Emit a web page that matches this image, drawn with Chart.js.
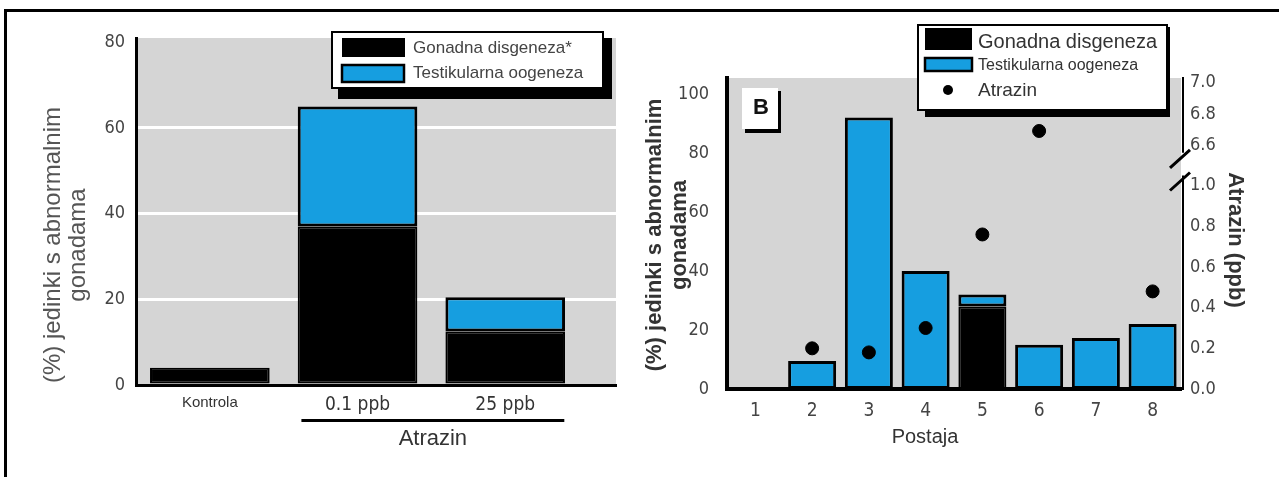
<!DOCTYPE html>
<html>
<head>
<meta charset="utf-8">
<script src="https://cdn.jsdelivr.net/npm/chart.js@4.4.0/dist/chart.umd.min.js"></script>
<style>
  body { margin: 0; background: #fff; overflow: hidden; }
  #lijevo { position: absolute; left: 0; top: 0; width: 640px; height: 477px; }
  #desno { position: absolute; left: 640px; top: 0; width: 639px; height: 477px; }
  #okvir { position: absolute; left: 4px; top: 9px; width: 1300px; height: 500px; border-top: 3px solid #000; border-left: 3px solid #000; }
</style>
</head>
<body>
<div id="lijevo"><canvas id="grafA"></canvas></div>
<div id="desno"><canvas id="grafB"></canvas></div>
<div id="okvir"></div>
<script>
// graf A - laboratorij
const kategorijeA = ['Kontrola', '0.1 ppb', '25 ppb']
const disgenezaA = [4, 37, 12.5]
const oogenezaA = [0, 28, 8]
const tickoviA = [0, 20, 40, 60, 80]

// graf B - postaje
const postaje = ['1', '2', '3', '4', '5', '6', '7', '8']
const disgenezaB = [0, 0, 0, 0, 28, 0, 0, 0]
const oogenezaB = [0, 9.5, 92, 40, 4, 15, 17.3, 22]
const atrazin = [null, 0.2, 0.18, 0.3, 0.76, 6.69, null, 0.48]
const tickoviB = [0, 20, 40, 60, 80, 100]
const atrazinDolje = [0, 0.2, 0.4, 0.6, 0.8, 1.0]
const atrazinGore = [6.6, 6.8, 7.0]

const crna = '#000'
const plava = '#169ee0'
const siva = '#d5d5d5'
const obican = "'Liberation Sans', Arial, sans-serif"
const uski = "'Liberation Sans Narrow', 'DejaVu Sans Condensed', sans-serif"

Chart.defaults.animation = false
Chart.defaults.plugins.legend.display = false
Chart.defaults.plugins.tooltip.enabled = false
Chart.defaults.font.family = obican

function tekst (ctx, t, x, y, font, boja, kut = 0, poravnanje = 'center') {
  ctx.save()
  ctx.translate(x, y)
  ctx.rotate(kut)
  ctx.font = font
  ctx.fillStyle = boja
  ctx.textAlign = poravnanje
  ctx.textBaseline = 'middle'
  ctx.fillText(t, 0, 0)
  ctx.restore()
}

function okvir (ctx, x, y, w, h, sjena) {
  ctx.save()
  ctx.fillStyle = crna
  ctx.fillRect(sjena[0], sjena[1], sjena[2], sjena[3])
  ctx.fillStyle = '#fff'
  ctx.fillRect(x, y, w, h)
  ctx.lineWidth = 2
  ctx.strokeStyle = crna
  ctx.strokeRect(x, y, w, h)
  ctx.restore()
}

function pozadina (chart) {
  const { ctx, chartArea: a } = chart
  ctx.save()
  ctx.fillStyle = siva
  ctx.fillRect(a.left, a.top, a.right - a.left, a.bottom - a.top)
  ctx.restore()
}

const dodatciA = {
  id: 'dodatciA',
  beforeDraw: pozadina,
  afterDraw (chart) {
    const { ctx, chartArea: a } = chart
    const x = chart.scales.x
    const [d1, d2] = chart.data.datasets

    tekst(ctx, '(%) jedinki s abnormalnim', 53, 245, '24px ' + obican, '#555', -Math.PI / 2)
    tekst(ctx, 'gonadama', 78, 245, '24px ' + obican, '#555', -Math.PI / 2)

    // crta ispod atrazin grupe
    const x1 = x.getPixelForValue(0.62)
    const x2 = x.getPixelForValue(2.4)
    ctx.fillStyle = crna
    ctx.fillRect(x1, a.bottom + 34, x2 - x1, 3)
    tekst(ctx, 'Atrazin', (x1 + x2) / 2, a.bottom + 54, '22px ' + obican, '#333')

    // legenda
    okvir(ctx, 332, 32, 271, 56, [338, 38, 274, 61])
    ctx.fillStyle = d1.backgroundColor
    ctx.fillRect(342, 38, 63, 19)
    ctx.fillStyle = d2.backgroundColor
    ctx.fillRect(342, 65, 62, 17)
    ctx.lineWidth = 2.5
    ctx.strokeStyle = crna
    ctx.strokeRect(342, 65, 62, 17)
    tekst(ctx, d1.label, 413, 48, '17px ' + obican, '#444', 0, 'left')
    tekst(ctx, d2.label, 413, 73, '17px ' + obican, '#444', 0, 'left')
  }
}

new Chart(document.getElementById('grafA'), {
  type: 'bar',
  data: {
    datasets: [
      {
        label: 'Gonadna disgeneza*',
        data: disgenezaA.map((v, i) => ({ x: i, y: v })),
        backgroundColor: crna,
        borderColor: crna,
        borderWidth: 2,
        borderSkipped: false
      },
      {
        label: 'Testikularna oogeneza',
        data: oogenezaA.map((v, i) => ({ x: i, y: v })),
        backgroundColor: plava,
        borderColor: crna,
        borderWidth: 3,
        borderSkipped: false
      }
    ]
  },
  options: {
    responsive: true,
    maintainAspectRatio: false,
    categoryPercentage: 0.9,
    barPercentage: 0.9,
    layout: { padding: { top: 38, right: 24, left: 0, bottom: 0 } },
    scales: {
      x: {
        type: 'linear',
        stacked: true,
        offset: false,
        min: -0.5,
        max: 2.75,
        afterBuildTicks: (s) => { s.ticks = kategorijeA.map((k, i) => ({ value: i })) },
        afterFit: (s) => { s.height = 92 },
        grid: { display: false },
        border: { color: crna, width: 3 },
        ticks: {
          padding: 1,
          autoSkip: false,
          color: '#333',
          callback: (v) => kategorijeA[v],
          font: (c) => c.index === 0 ? { size: 15, family: obican } : { size: 19, family: uski }
        }
      },
      y: {
        stacked: true,
        min: 0,
        max: 81,
        afterBuildTicks: (s) => { s.ticks = tickoviA.map((v) => ({ value: v })) },
        afterFit: (s) => { s.width = 136 },
        grid: {
          drawTicks: false,
          lineWidth: 3,
          color: (c) => c.tick && c.tick.value > 0 && c.tick.value < 80 ? '#fff' : 'rgba(0,0,0,0)'
        },
        border: { color: crna, width: 3 },
        ticks: { padding: 11, autoSkip: false, color: '#444', font: { size: 18, family: uski } }
      }
    }
  },
  plugins: [dodatciA]
})

const dodatciB = {
  id: 'dodatciB',
  beforeDraw: pozadina,
  afterDraw (chart) {
    const { ctx, chartArea: a } = chart
    const gore = chart.scales.yGore
    const dolje = chart.scales.yDolje
    const ds = chart.data.datasets

    // desna os s prekidom
    const xo = a.right + 2
    const kraj = gore.getPixelForValue(6.55)
    const pocetak = dolje.getPixelForValue(1.05)
    ctx.save()
    ctx.strokeStyle = crna
    ctx.lineWidth = 2
    ctx.beginPath()
    ctx.moveTo(xo, gore.top - 1)
    ctx.lineTo(xo, kraj)
    ctx.moveTo(xo, pocetak)
    ctx.lineTo(xo, dolje.bottom + 1)
    ctx.stroke()
    ctx.lineWidth = 3
    ctx.beginPath()
    ctx.moveTo(xo + 7, kraj - 3)
    ctx.lineTo(xo - 13, kraj + 15)
    ctx.moveTo(xo + 7, pocetak - 3)
    ctx.lineTo(xo - 13, pocetak + 15)
    ctx.stroke()
    ctx.restore()

    // oznaka B
    ctx.fillStyle = crna
    ctx.fillRect(105, 91, 36, 42)
    ctx.fillStyle = '#fff'
    ctx.fillRect(102, 88, 36, 41)
    tekst(ctx, 'B', 121, 108, 'bold 22px ' + obican, '#111')

    // naslovi osi
    tekst(ctx, '(%) jedinki s abnormalnim', 15, 235, 'bold 22px ' + obican, '#333', -Math.PI / 2)
    tekst(ctx, 'gonadama', 40, 235, 'bold 22px ' + obican, '#333', -Math.PI / 2)
    tekst(ctx, 'Atrazin (ppb)', 595, 240, 'bold 22px ' + obican, '#333', Math.PI / 2)
    tekst(ctx, 'Postaja', 285, 437, '20px ' + obican, '#333')

    // legenda
    okvir(ctx, 278, 25, 249, 85, [285, 27, 245, 90])
    ctx.fillStyle = ds[2].backgroundColor
    ctx.fillRect(285, 28, 47, 22)
    ctx.fillStyle = ds[3].backgroundColor
    ctx.fillRect(285, 58, 47, 13)
    ctx.lineWidth = 2.5
    ctx.strokeStyle = crna
    ctx.strokeRect(285, 58, 47, 13)
    ctx.fillStyle = ds[0].backgroundColor
    ctx.beginPath()
    ctx.arc(308, 90, 5, 0, Math.PI * 2)
    ctx.fill()
    tekst(ctx, ds[2].label, 338, 42, '20px ' + obican, '#333', 0, 'left')
    tekst(ctx, ds[3].label, 338, 66, '16px ' + obican, '#333', 0, 'left')
    tekst(ctx, ds[0].label, 338, 91, '19px ' + obican, '#333', 0, 'left')
  }
}

const tocka = {
  type: 'line',
  showLine: false,
  backgroundColor: crna,
  borderColor: crna,
  pointRadius: 6.5,
  pointHoverRadius: 6.5,
  order: 1
}

new Chart(document.getElementById('grafB'), {
  type: 'bar',
  data: {
    labels: postaje,
    datasets: [
      { ...tocka, label: 'Atrazin', yAxisID: 'yDolje', data: atrazin.map((v) => v !== null && v < 1.2 ? v : null) },
      { ...tocka, label: 'Atrazin', yAxisID: 'yGore', data: atrazin.map((v) => v !== null && v >= 6 ? v : null) },
      {
        label: 'Gonadna disgeneza',
        data: disgenezaB,
        backgroundColor: crna,
        borderColor: crna,
        borderWidth: 2,
        borderSkipped: false,
        order: 2
      },
      {
        label: 'Testikularna oogeneza',
        data: oogenezaB,
        backgroundColor: plava,
        borderColor: crna,
        borderWidth: 3,
        borderSkipped: false,
        order: 2
      }
    ]
  },
  options: {
    responsive: true,
    maintainAspectRatio: false,
    categoryPercentage: 0.9,
    barPercentage: 0.94,
    layout: { padding: { top: 78, right: 0, left: 0, bottom: 0 } },
    scales: {
      x: {
        stacked: true,
        afterFit: (s) => { s.height = 88 },
        grid: { display: false },
        border: { color: crna, width: 4 },
        ticks: { padding: 3, autoSkip: false, color: '#444', font: { size: 19, family: uski } }
      },
      y: {
        stacked: true,
        position: 'left',
        min: 0,
        max: 105.4,
        afterBuildTicks: (s) => { s.ticks = tickoviB.map((v) => ({ value: v })) },
        afterFit: (s) => { s.width = 87 },
        grid: { display: false },
        border: { color: crna, width: 4 },
        ticks: { padding: 10, autoSkip: false, color: '#444', font: { size: 18, family: uski } }
      },
      yGore: {
        position: 'right',
        stack: 'atrazin',
        stackWeight: 67,
        min: 6.6,
        max: 7.03,
        afterBuildTicks: (s) => { s.ticks = atrazinGore.map((v) => ({ value: v })) },
        afterFit: (s) => { s.width = 98 },
        grid: { display: false, drawTicks: false },
        border: { display: false },
        ticks: { padding: 9, autoSkip: false, color: '#444', font: { size: 18, family: uski }, callback: (v) => v.toFixed(1) }
      },
      yDolje: {
        position: 'right',
        stack: 'atrazin',
        stackWeight: 244,
        min: 0,
        max: 1.2,
        afterBuildTicks: (s) => { s.ticks = atrazinDolje.map((v) => ({ value: v })) },
        afterFit: (s) => { s.width = 98 },
        grid: { display: false, drawTicks: false },
        border: { display: false },
        ticks: { padding: 9, autoSkip: false, color: '#444', font: { size: 18, family: uski }, callback: (v) => v.toFixed(1) }
      }
    }
  },
  plugins: [dodatciB]
})
</script>
</body>
</html>
